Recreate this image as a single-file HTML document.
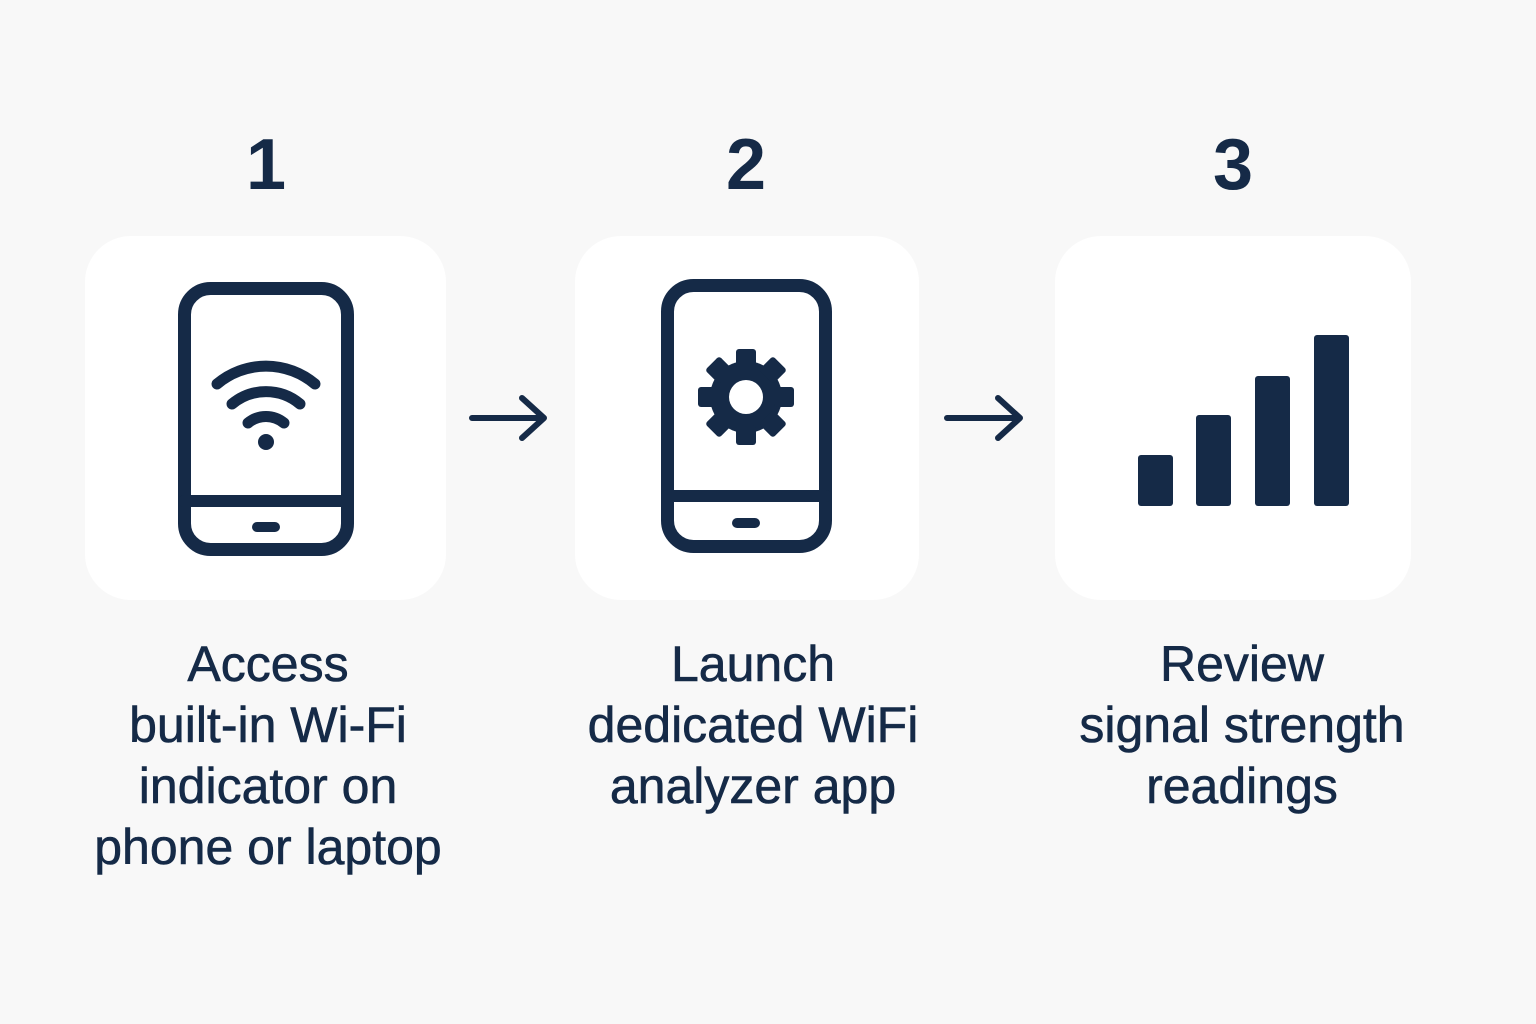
<!DOCTYPE html>
<html><head><meta charset="utf-8"><style>
body{margin:0;width:1536px;height:1024px;background:#f8f8f8;position:relative;overflow:hidden;font-family:"Liberation Sans",sans-serif;color:#152a47}
.card{position:absolute;background:#fff;border-radius:46px;top:236px;height:364px}
.num{position:absolute;font-size:72px;font-weight:bold;top:124px;width:200px;text-align:center}
.txt{position:absolute;font-size:50px;line-height:61px;top:634px;width:520px;text-align:center;-webkit-text-stroke:0.6px #152a47}
svg{position:absolute;left:0;top:0}
</style></head><body>
<div class="card" style="left:85px;width:361px"></div>
<div class="card" style="left:575px;width:344px"></div>
<div class="card" style="left:1055px;width:356px"></div>
<div class="num" style="left:166px">1</div>
<div class="num" style="left:646px">2</div>
<div class="num" style="left:1133px">3</div>
<div class="txt" style="left:8px">Access<br>built-in Wi-Fi<br>indicator on<br>phone or laptop</div>
<div class="txt" style="left:493px">Launch<br>dedicated WiFi<br>analyzer app</div>
<div class="txt" style="left:982px">Review<br>signal strength<br>readings</div>
<svg width="1536" height="1024" fill="none" stroke="#152a47" stroke-linecap="round" stroke-linejoin="round">
<rect x="184.5" y="288.5" width="163" height="261" rx="26" stroke-width="13"/>
<line x1="184" y1="501" x2="348" y2="501" stroke-width="12"/>
<line x1="257" y1="527" x2="275" y2="527" stroke-width="10"/>
<circle cx="266" cy="442" r="8" fill="#152a47" stroke="none"/>
<path d="M217 384 A76 76 0 0 1 315 384" stroke-width="11"/>
<path d="M232 404 A53 53 0 0 1 300 404" stroke-width="11"/>
<path d="M248 423 A28 28 0 0 1 284 423" stroke-width="11"/>
<rect x="667.5" y="285.5" width="158" height="261" rx="26" stroke-width="13"/>
<line x1="667" y1="496" x2="826" y2="496" stroke-width="12"/>
<line x1="737" y1="523" x2="755" y2="523" stroke-width="10"/>
<g transform="translate(746,397)" fill="#152a47" stroke="none">
<circle r="36"/>
<g id="t"><rect x="-10" y="-48" width="20" height="20" rx="3"/></g>
<use href="#t" transform="rotate(45)"/><use href="#t" transform="rotate(90)"/><use href="#t" transform="rotate(135)"/>
<use href="#t" transform="rotate(180)"/><use href="#t" transform="rotate(225)"/><use href="#t" transform="rotate(270)"/><use href="#t" transform="rotate(315)"/>
<circle r="17" fill="#fff"/>
</g>
<g stroke-width="6">
<path d="M472 418 H544 M522 398 L544 418 L522 438"/>
<path d="M947 418 H1020 M998 398 L1020 418 L998 438"/>
</g>
<g fill="#152a47" stroke="none">
<rect x="1138" y="455" width="35" height="51" rx="3"/>
<rect x="1196" y="415" width="35" height="91" rx="3"/>
<rect x="1255" y="376" width="35" height="130" rx="3"/>
<rect x="1314" y="335" width="35" height="171" rx="3"/>
</g>
</svg>
</body></html>
